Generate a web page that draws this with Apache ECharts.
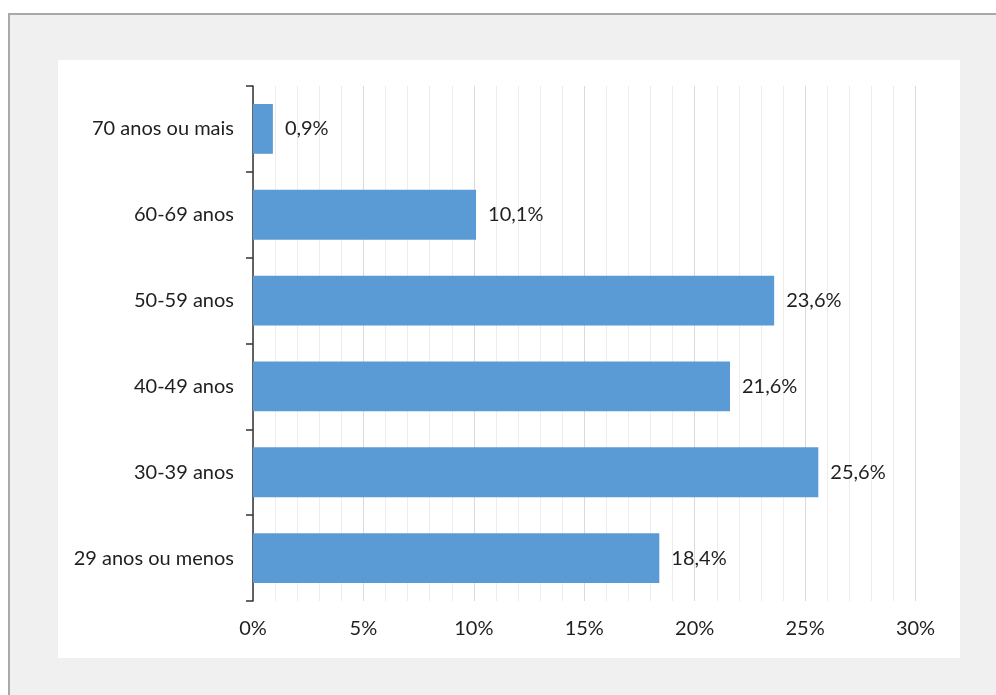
<!DOCTYPE html>
<html>
<head>
<meta charset="utf-8">
<script src="https://cdn.jsdelivr.net/npm/echarts@6/dist/echarts.min.js"></script>
<style>
  html, body { margin: 0; padding: 0; background: #ffffff; }
  #chart { width: 996px; height: 695px; }
</style>
</head>
<body>
<div id="chart"></div>
<script>
// Age groups, bottom to top on the category axis
const categories = ['29 anos ou menos', '30-39 anos', '40-49 anos', '50-59 anos', '60-69 anos', '70 anos ou mais'];
// Share of each age group (%)
const shares = [18.4, 25.6, 21.6, 23.6, 10.1, 0.9];
// Value axis ticks (%)
const xTicks = [0, 5, 10, 15, 20, 25, 30];

const FONT = 'Lato';
const TEXT = '#1f1f1f';

const chart = echarts.init(document.getElementById('chart'), null, { renderer: 'canvas' });

chart.setOption({
  animation: false,
  backgroundColor: '#ffffff',
  graphic: [
    // outer frame
    { type: 'rect', left: 8, top: 13, shape: { width: 1000, height: 700 }, style: { fill: '#f0f0f0' }, z: -10 },
    { type: 'rect', left: 8, top: 13, shape: { width: 1000, height: 2 }, style: { fill: '#a9a9a9' }, z: -9 },
    { type: 'rect', left: 8, top: 13, shape: { width: 2, height: 700 }, style: { fill: '#a9a9a9' }, z: -9 },
    // chart panel
    { type: 'rect', left: 58, top: 60, shape: { width: 902, height: 598 }, style: { fill: '#ffffff' }, z: -8 }
  ],
  grid: { left: 253, top: 86, width: 662.5, height: 515, containLabel: false },
  xAxis: {
    type: 'value',
    min: xTicks[0],
    max: xTicks[xTicks.length - 1],
    interval: 5,
    axisLine: { show: false },
    axisTick: { show: false },
    minorTick: { show: false, splitNumber: 5 },
    splitLine: { show: true, lineStyle: { color: '#d9d9d9', width: 1 } },
    minorSplitLine: { show: true, lineStyle: { color: '#ededed', width: 1 } },
    axisLabel: {
      formatter: v => v + '%',
      fontFamily: FONT, fontSize: 20, color: TEXT, margin: 18
    }
  },
  yAxis: {
    type: 'category',
    data: categories,
    axisLine: { show: true, lineStyle: { color: '#333333', width: 1.5 } },
    axisTick: { show: true, length: 7, lineStyle: { color: '#333333', width: 1.5 } },
    axisLabel: { fontFamily: FONT, fontSize: 20, color: TEXT, margin: 19 },
    splitLine: { show: false }
  },
  series: [{
    type: 'bar',
    data: shares,
    barCategoryGap: '42%',
    itemStyle: { color: '#5b9bd5' },
    label: {
      show: true,
      position: 'right',
      distance: 12,
      fontFamily: FONT, fontSize: 20, color: TEXT,
      formatter: p => p.value.toFixed(1).replace('.', ',') + '%'
    }
  }]
});
</script>
</body>
</html>
